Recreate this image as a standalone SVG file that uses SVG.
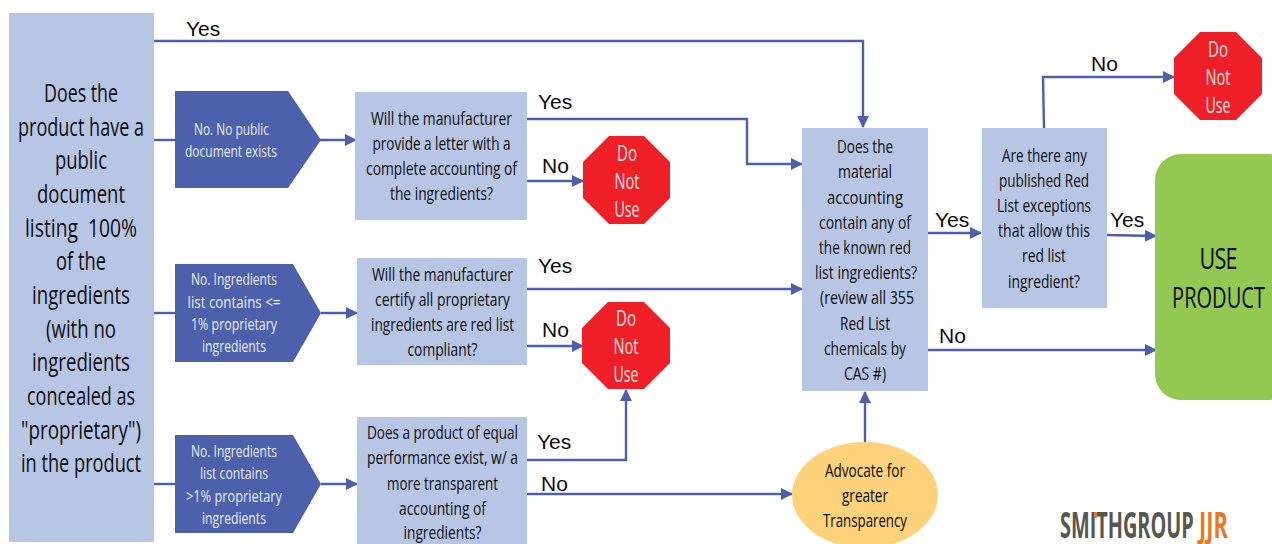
<svg xmlns="http://www.w3.org/2000/svg" width="1272" height="544" viewBox="0 0 1272 544">
<style>
text{font-family:"Open Sans","Noto Sans",sans-serif;text-anchor:middle;fill:#0c0c0c}
.big{font-size:26px;font-weight:500}.m{font-size:19px;font-weight:500}.s{font-size:16px;fill:#e8ecf6}.w{font-size:21px;fill:#f8e4e4}
.l{font-family:"Liberation Sans",Arial,sans-serif;font-size:21px;text-anchor:start}
.q{fill:#b8c6e6}.p{fill:#4c60ac}.r{fill:#ef1f27}
.c{fill:none;stroke:#4c5fae;stroke-width:2.4}
</style>
<defs>
<marker id="a" markerUnits="userSpaceOnUse" markerWidth="12" markerHeight="12" refX="11" refY="6" orient="auto"><path d="M0 0L12 6L0 12z" fill="#4c5fae"/></marker>
</defs>
<g id="connectors">
<path class="c" d="M153 41H863V127" marker-end="url(#a)"/>
<path class="c" d="M153 140H176"/>
<path class="c" d="M320 140H356" marker-end="url(#a)"/>
<path class="c" d="M527 119H747V164H802" marker-end="url(#a)"/>
<path class="c" d="M527 181H583" marker-end="url(#a)"/>
<path class="c" d="M153 313H176"/>
<path class="c" d="M321 313H357" marker-end="url(#a)"/>
<path class="c" d="M527 289H802" marker-end="url(#a)"/>
<path class="c" d="M527 346H583" marker-end="url(#a)"/>
<path class="c" d="M153 484H176"/>
<path class="c" d="M321 484H357" marker-end="url(#a)"/>
<path class="c" d="M527 460H626V390" marker-end="url(#a)"/>
<path class="c" d="M526 494H792" marker-end="url(#a)"/>
<path class="c" d="M865 442V392" marker-end="url(#a)"/>
<path class="c" d="M927 233H981" marker-end="url(#a)"/>
<path class="c" d="M927 350H1156" marker-end="url(#a)"/>
<path class="c" d="M1044 128L1043 77H1174" marker-end="url(#a)"/>
<path class="c" d="M1106 235L1156 236" marker-end="url(#a)"/>
</g>
<g id="edge-labels">
<text class="l" x="186" y="36">Yes</text>
<text class="l" x="538" y="109">Yes</text>
<text class="l" x="542" y="173">No</text>
<text class="l" x="538" y="273">Yes</text>
<text class="l" x="542" y="337">No</text>
<text class="l" x="537" y="449">Yes</text>
<text class="l" x="541" y="491">No</text>
<text class="l" x="935" y="227">Yes</text>
<text class="l" x="939" y="343">No</text>
<text class="l" x="1091" y="71">No</text>
<text class="l" x="1110" y="227">Yes</text>
</g>
<g id="n-public"><rect class="q" x="9" y="13" width="145" height="529"/>
<text class="big" x="81" y="102" textLength="74" lengthAdjust="spacingAndGlyphs">Does the</text>
<text class="big" x="81" y="136" textLength="126" lengthAdjust="spacingAndGlyphs">product have a</text>
<text class="big" x="81" y="169" textLength="52" lengthAdjust="spacingAndGlyphs">public</text>
<text class="big" x="81" y="203" textLength="88" lengthAdjust="spacingAndGlyphs">document</text>
<text class="big" x="81" y="237" textLength="112" lengthAdjust="spacingAndGlyphs" xml:space="preserve">listing  100%</text>
<text class="big" x="81" y="270" textLength="50" lengthAdjust="spacingAndGlyphs">of the</text>
<text class="big" x="81" y="304" textLength="98" lengthAdjust="spacingAndGlyphs">ingredients</text>
<text class="big" x="81" y="338" textLength="70" lengthAdjust="spacingAndGlyphs">(with no</text>
<text class="big" x="81" y="371" textLength="98" lengthAdjust="spacingAndGlyphs">ingredients</text>
<text class="big" x="81" y="405" textLength="108" lengthAdjust="spacingAndGlyphs">concealed as</text>
<text class="big" x="81" y="439" textLength="120" lengthAdjust="spacingAndGlyphs">"proprietary")</text>
<text class="big" x="81" y="472" textLength="120" lengthAdjust="spacingAndGlyphs">in the product</text>
</g>
<g id="n-nodoc"><path class="p" d="M175 91H288L321 140L288 188H175z"/>
<text class="s" x="231.500" y="135" textLength="75" lengthAdjust="spacingAndGlyphs">No. No public</text>
<text class="s" x="231" y="157" textLength="92" lengthAdjust="spacingAndGlyphs">document exists</text>
</g>
<g id="n-le1"><path class="p" d="M175 264H293L321 313L293 362H175z"/>
<text class="s" x="234" y="285" textLength="86" lengthAdjust="spacingAndGlyphs">No. Ingredients</text>
<text class="s" x="234" y="308" textLength="93" lengthAdjust="spacingAndGlyphs">list contains &lt;=</text>
<text class="s" x="234" y="330" textLength="86" lengthAdjust="spacingAndGlyphs">1% proprietary</text>
<text class="s" x="234" y="352" textLength="64" lengthAdjust="spacingAndGlyphs">ingredients</text>
</g>
<g id="n-gt1"><path class="p" d="M175 435H293L321 484L293 533H175z"/>
<text class="s" x="234" y="457" textLength="86" lengthAdjust="spacingAndGlyphs">No. Ingredients</text>
<text class="s" x="234" y="479" textLength="68" lengthAdjust="spacingAndGlyphs">list contains</text>
<text class="s" x="234" y="502" textLength="96" lengthAdjust="spacingAndGlyphs">&gt;1% proprietary</text>
<text class="s" x="234" y="524" textLength="64" lengthAdjust="spacingAndGlyphs">ingredients</text>
</g>
<g id="n-letter"><rect class="q" x="355" y="92" width="172" height="128"/>
<text class="m" x="441.500" y="125" textLength="141" lengthAdjust="spacingAndGlyphs">Will the manufacturer</text>
<text class="m" x="441.500" y="150" textLength="138" lengthAdjust="spacingAndGlyphs">provide a letter with a</text>
<text class="m" x="441.500" y="175" textLength="151" lengthAdjust="spacingAndGlyphs">complete accounting of</text>
<text class="m" x="441.500" y="200" textLength="103" lengthAdjust="spacingAndGlyphs">the ingredients?</text>
</g>
<g id="n-certify"><rect class="q" x="357" y="258" width="170" height="107"/>
<text class="m" x="442.500" y="281" textLength="141" lengthAdjust="spacingAndGlyphs">Will the manufacturer</text>
<text class="m" x="442.500" y="306" textLength="135" lengthAdjust="spacingAndGlyphs">certify all proprietary</text>
<text class="m" x="442.500" y="331" textLength="143" lengthAdjust="spacingAndGlyphs">ingredients are red list</text>
<text class="m" x="442.500" y="356" textLength="70" lengthAdjust="spacingAndGlyphs">compliant?</text>
</g>
<g id="n-equal"><rect class="q" x="357" y="417" width="170" height="127"/>
<text class="m" x="442.500" y="439" textLength="151" lengthAdjust="spacingAndGlyphs">Does a product of equal</text>
<text class="m" x="442.500" y="464" textLength="151" lengthAdjust="spacingAndGlyphs">performance exist, w/ a</text>
<text class="m" x="442.500" y="490" textLength="111" lengthAdjust="spacingAndGlyphs">more transparent</text>
<text class="m" x="442.500" y="515" textLength="87" lengthAdjust="spacingAndGlyphs">accounting of</text>
<text class="m" x="442.500" y="539" textLength="78" lengthAdjust="spacingAndGlyphs">ingredients?</text>
</g>
<g id="n-stop1"><path class="r" d="M609 136H644L670 162V198L644 224H609L583 198V162z"/>
<text class="w" x="627" y="160.500" textLength="20" lengthAdjust="spacingAndGlyphs">Do</text>
<text class="w" x="627" y="188.500" textLength="25" lengthAdjust="spacingAndGlyphs">Not</text>
<text class="w" x="627" y="216.500" textLength="25" lengthAdjust="spacingAndGlyphs">Use</text>
</g>
<g id="n-stop2"><path class="r" d="M608 302H644L670 328V363L644 389H608L582 363V328z"/>
<text class="w" x="626" y="325.500" textLength="20" lengthAdjust="spacingAndGlyphs">Do</text>
<text class="w" x="626" y="353.500" textLength="25" lengthAdjust="spacingAndGlyphs">Not</text>
<text class="w" x="626" y="381.500" textLength="25" lengthAdjust="spacingAndGlyphs">Use</text>
</g>
<g id="n-stop3"><path class="r" d="M1200 32H1236L1262 58V94L1236 120H1200L1174 94V58z"/>
<text class="w" x="1218" y="56.500" textLength="20" lengthAdjust="spacingAndGlyphs">Do</text>
<text class="w" x="1218" y="84.500" textLength="25" lengthAdjust="spacingAndGlyphs">Not</text>
<text class="w" x="1218" y="112.500" textLength="25" lengthAdjust="spacingAndGlyphs">Use</text>
</g>
<g id="n-material"><rect class="q" x="802" y="128" width="126" height="263"/>
<text class="m" x="865" y="153" textLength="56" lengthAdjust="spacingAndGlyphs">Does the</text>
<text class="m" x="865" y="178" textLength="54" lengthAdjust="spacingAndGlyphs">material</text>
<text class="m" x="865" y="204" textLength="76" lengthAdjust="spacingAndGlyphs">accounting</text>
<text class="m" x="865" y="229" textLength="92" lengthAdjust="spacingAndGlyphs">contain any of</text>
<text class="m" x="865" y="254" textLength="92" lengthAdjust="spacingAndGlyphs">the known red</text>
<text class="m" x="866" y="279" textLength="102" lengthAdjust="spacingAndGlyphs">list ingredients?</text>
<text class="m" x="867" y="304" textLength="94" lengthAdjust="spacingAndGlyphs">(review all 355</text>
<text class="m" x="865" y="330" textLength="50" lengthAdjust="spacingAndGlyphs">Red List</text>
<text class="m" x="865" y="355" textLength="82" lengthAdjust="spacingAndGlyphs">chemicals by</text>
<text class="m" x="865" y="380" textLength="42" lengthAdjust="spacingAndGlyphs">CAS #)</text>
</g>
<g id="n-exceptions"><rect class="q" x="982" y="128" width="125" height="180"/>
<text class="m" x="1044.500" y="162" textLength="85" lengthAdjust="spacingAndGlyphs">Are there any</text>
<text class="m" x="1044" y="187" textLength="90" lengthAdjust="spacingAndGlyphs">published Red</text>
<text class="m" x="1044" y="212" textLength="94" lengthAdjust="spacingAndGlyphs">List exceptions</text>
<text class="m" x="1044" y="237" textLength="92" lengthAdjust="spacingAndGlyphs">that allow this</text>
<text class="m" x="1044" y="262" textLength="44" lengthAdjust="spacingAndGlyphs">red list</text>
<text class="m" x="1044" y="288" textLength="72" lengthAdjust="spacingAndGlyphs">ingredient?</text>
</g>
<g id="n-use"><rect x="1155" y="154" width="140" height="246" rx="26" fill="#93c853"/>
<text transform="translate(1218.500 269) scale(.72 1)" font-size="30" textLength="53">USE</text>
<text transform="translate(1218.500 308) scale(.72 1)" font-size="30" textLength="129" lengthAdjust="spacingAndGlyphs">PRODUCT</text>
</g>
<g id="n-advocate"><ellipse cx="865" cy="495" rx="73" ry="53" fill="#fed27a"/>
<text class="m" x="865" y="477" textLength="80" lengthAdjust="spacingAndGlyphs">Advocate for</text>
<text class="m" x="865" y="502" textLength="46" lengthAdjust="spacingAndGlyphs">greater</text>
<text class="m" x="865" y="527" textLength="84" lengthAdjust="spacingAndGlyphs">Transparency</text>
</g>
<g id="logo">
<text transform="translate(1060 538) scale(.6 1)" font-size="35" font-weight="700" style="text-anchor:start;fill:#57574f" textLength="223" lengthAdjust="spacingAndGlyphs">SMITHGROUP</text>
<text transform="translate(1199 538) scale(.6 1)" font-size="35" font-weight="700" style="text-anchor:start;fill:#e87722" textLength="48" lengthAdjust="spacingAndGlyphs">JJR</text>
<rect x="1094" y="512" width="3" height="6" fill="#e87722"/>
</g>
</svg>
